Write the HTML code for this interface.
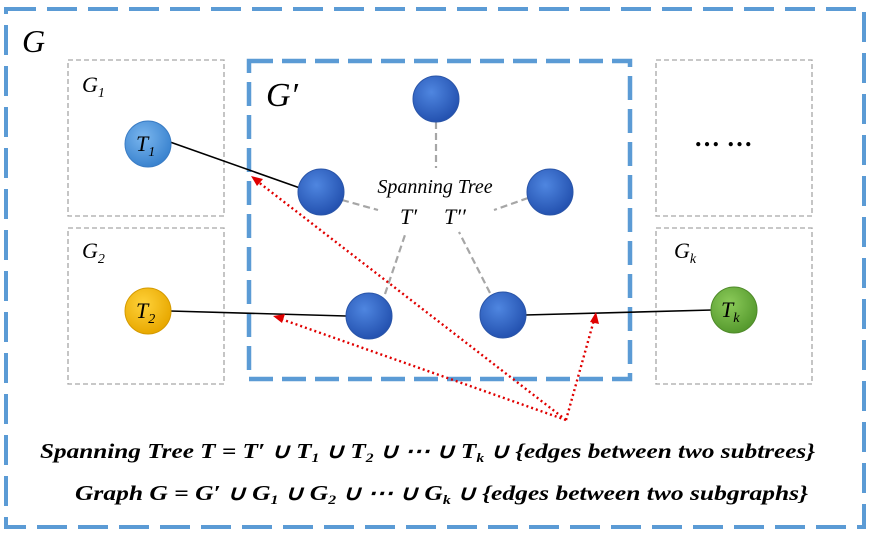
<!DOCTYPE html>
<html><head><meta charset="utf-8"><style>
html,body{margin:0;padding:0;background:#fff;}
svg{display:block;}
text{font-family:"Liberation Serif",serif;}
</style></head><body>
<svg width="871" height="536" viewBox="0 0 871 536">
<defs>
<radialGradient id="gBlue" cx="40%" cy="35%" r="65%"><stop offset="0" stop-color="#4f86e0"/><stop offset="1" stop-color="#2452b0"/></radialGradient>
<radialGradient id="gLight" cx="40%" cy="35%" r="65%"><stop offset="0" stop-color="#7ab6ee"/><stop offset="1" stop-color="#3a83cf"/></radialGradient>
<radialGradient id="gYel" cx="40%" cy="35%" r="65%"><stop offset="0" stop-color="#ffd23a"/><stop offset="1" stop-color="#e8a800"/></radialGradient>
<radialGradient id="gGrn" cx="40%" cy="35%" r="65%"><stop offset="0" stop-color="#8ccb5a"/><stop offset="1" stop-color="#569a2e"/></radialGradient>
</defs>
<rect x="6" y="9" width="858" height="518" fill="none" stroke="#5b9bd5" stroke-width="4" stroke-dasharray="30,11"/>
<text x="22" y="52" font-size="32" font-style="italic">G</text>

<rect x="68" y="60" width="156" height="156" fill="none" stroke="#a6a6a6" stroke-width="1.3" stroke-dasharray="5,3"/>
<rect x="68" y="228" width="156" height="156" fill="none" stroke="#a6a6a6" stroke-width="1.3" stroke-dasharray="5,3"/>
<rect x="656" y="60" width="156" height="156" fill="none" stroke="#a6a6a6" stroke-width="1.3" stroke-dasharray="5,3"/>
<rect x="656" y="228" width="156" height="156" fill="none" stroke="#a6a6a6" stroke-width="1.3" stroke-dasharray="5,3"/>
<rect x="249" y="61" width="381" height="318" fill="none" stroke="#5b9bd5" stroke-width="4.5" stroke-dasharray="24,9"/>

<text x="82" y="92" font-size="22" font-style="italic">G<tspan font-size="14" dy="5">1</tspan></text>
<text x="82" y="258" font-size="22" font-style="italic">G<tspan font-size="14" dy="5">2</tspan></text>
<text x="674" y="258" font-size="22" font-style="italic">G<tspan font-size="14" dy="5" font-style="italic">k</tspan></text>
<text x="266" y="106" font-size="34" font-style="italic">G′</text>
<text x="694" y="146" font-size="26" font-weight="bold">… …</text>

<g stroke="#000" stroke-width="1.6">
<line x1="170" y1="142" x2="300" y2="188"/>
<line x1="170" y1="311" x2="346" y2="316"/>
<line x1="525" y1="315" x2="712" y2="310"/>
</g>
<g stroke="#a6a6a6" stroke-width="2.2" stroke-dasharray="7,4">
<line x1="436" y1="122" x2="436" y2="168"/>
<line x1="342" y1="200" x2="378" y2="210"/>
<line x1="528" y1="198" x2="494" y2="210"/>
<line x1="385" y1="294" x2="406" y2="232"/>
<line x1="490" y1="293" x2="459" y2="232"/>
</g>

<circle cx="148" cy="144" r="23" fill="url(#gLight)" stroke="#3a7cc4" stroke-width="1"/>
<circle cx="148" cy="311" r="23" fill="url(#gYel)" stroke="#d49a00" stroke-width="1"/>
<circle cx="734" cy="310" r="23" fill="url(#gGrn)" stroke="#4f8a2a" stroke-width="1"/>
<text x="136" y="151" font-size="22" font-style="italic">T<tspan font-size="14" dy="5">1</tspan></text>
<text x="136" y="318" font-size="22" font-style="italic">T<tspan font-size="14" dy="5">2</tspan></text>
<text x="721" y="317" font-size="22" font-style="italic">T<tspan font-size="14" dy="5">k</tspan></text>

<g stroke="#2a55a8" stroke-width="1">
<circle cx="436" cy="99" r="23" fill="url(#gBlue)"/>
<circle cx="321" cy="192" r="23" fill="url(#gBlue)"/>
<circle cx="550" cy="192" r="23" fill="url(#gBlue)"/>
<circle cx="369" cy="316" r="23" fill="url(#gBlue)"/>
<circle cx="503" cy="315" r="23" fill="url(#gBlue)"/>
</g>

<text x="435" y="193" font-size="20" font-style="italic" text-anchor="middle">Spanning Tree</text>
<text x="400" y="224" font-size="22" font-style="italic">T′</text>
<text x="444" y="224" font-size="22" font-style="italic">T′′</text>

<g stroke="#e00000" stroke-width="2.4" stroke-dasharray="2,3" fill="none">
<line x1="566" y1="420" x2="257" y2="181"/>
<line x1="566" y1="420" x2="281" y2="319"/>
<line x1="566" y1="420" x2="594" y2="320"/>
</g>
<g fill="#e00000">
<polygon points="251,176 263,179 257,186"/>
<polygon points="273,316 285,314 282,323"/>
<polygon points="596,312 599,324 590,322"/>
</g>

<text x="40" y="458" font-size="21" font-weight="bold" font-style="italic" textLength="775" lengthAdjust="spacingAndGlyphs">Spanning Tree T = T′ ∪ T<tspan font-size="13" dy="4">1</tspan><tspan dy="-4"> ∪ T</tspan><tspan font-size="13" dy="4">2</tspan><tspan dy="-4"> ∪ ⋯ ∪ T</tspan><tspan font-size="13" dy="4">k</tspan><tspan dy="-4"> ∪ {edges between two subtrees}</tspan></text>
<text x="75" y="500" font-size="21" font-weight="bold" font-style="italic" textLength="733" lengthAdjust="spacingAndGlyphs">Graph G = G′ ∪ G<tspan font-size="13" dy="4">1</tspan><tspan dy="-4"> ∪ G</tspan><tspan font-size="13" dy="4">2</tspan><tspan dy="-4"> ∪ ⋯ ∪ G</tspan><tspan font-size="13" dy="4">k</tspan><tspan dy="-4"> ∪ {edges between two subgraphs}</tspan></text>
</svg>
</body></html>
